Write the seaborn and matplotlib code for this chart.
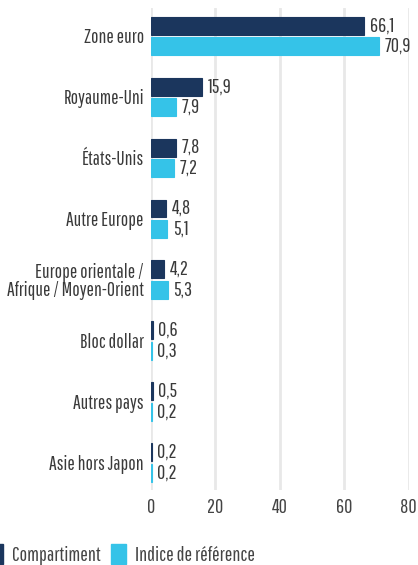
import seaborn as sns
import matplotlib.pyplot as plt
import pandas as pd
from matplotlib.patches import Patch

regions = ["Zone euro", "Royaume-Uni", "États-Unis", "Autre Europe",
           "Europe orientale /\nAfrique / Moyen-Orient", "Bloc dollar",
           "Autres pays", "Asie hors Japon"]
compartiment = [66.1, 15.9, 7.8, 4.8, 4.2, 0.6, 0.5, 0.2]
indice = [70.9, 7.9, 7.2, 5.1, 5.3, 0.3, 0.2, 0.2]
series = ["Compartiment", "Indice de référence"]
colors = ["#1b365d", "#35c3e8"]
ticks = [0, 20, 40, 60, 80]

df = pd.DataFrame({
    "region": regions * 2,
    "value": compartiment + indice,
    "serie": [series[0]] * len(regions) + [series[1]] * len(regions),
})

sns.set_style("white")
plt.rcParams["font.family"] = ["Pathway Gothic One", "DejaVu Sans"]

fig = plt.figure(figsize=(4.18, 5.65), dpi=100)
ax = fig.add_axes([0.361, 0.133, 0.617, 0.853])
sns.barplot(data=df, y="region", x="value", hue="serie", order=regions,
            hue_order=series, palette=colors, orient="h", width=0.67,
            gap=0.12, saturation=1, legend=False, ax=ax)
# thin outline so the tiny bars stay visible
for cont, c in zip(ax.containers, colors):
    for b in cont:
        b.set_edgecolor(c)
        b.set_linewidth(0.8)

for cont in ax.containers:
    labels = [f"{b.get_width():.1f}".replace(".", ",") for b in cont]
    ax.bar_label(cont, labels=labels, padding=4, fontsize=14.5, color="#3a3a3a")

ax.set_xlim(0, 80)
ax.set_ylim(7.45, -0.46)
ax.set_xticks(ticks)
ax.set_xlabel("")
ax.set_ylabel("")
ax.grid(axis="x", color="#e8e8e8", linewidth=2)
ax.set_axisbelow(True)
for s in ax.spines.values():
    s.set_visible(False)
ax.tick_params(axis="x", labelsize=14.5, colors="#444444", length=0, pad=6)
ax.tick_params(axis="y", labelsize=14, colors="#3a3a3a", length=0, pad=5)
for t in ax.get_yticklabels():
    t.set_linespacing(0.95)

handles = [Patch(color=c) for c in colors]
fig.legend(handles, series, loc="lower left", bbox_to_anchor=(-0.072, -0.032),
           ncol=2, frameon=False, fontsize=14.5, handlelength=0.75,
           handleheight=1.1, handletextpad=0.45, columnspacing=0.5,
           labelcolor="#444444")

fig.savefig("out.png", dpi=100)
